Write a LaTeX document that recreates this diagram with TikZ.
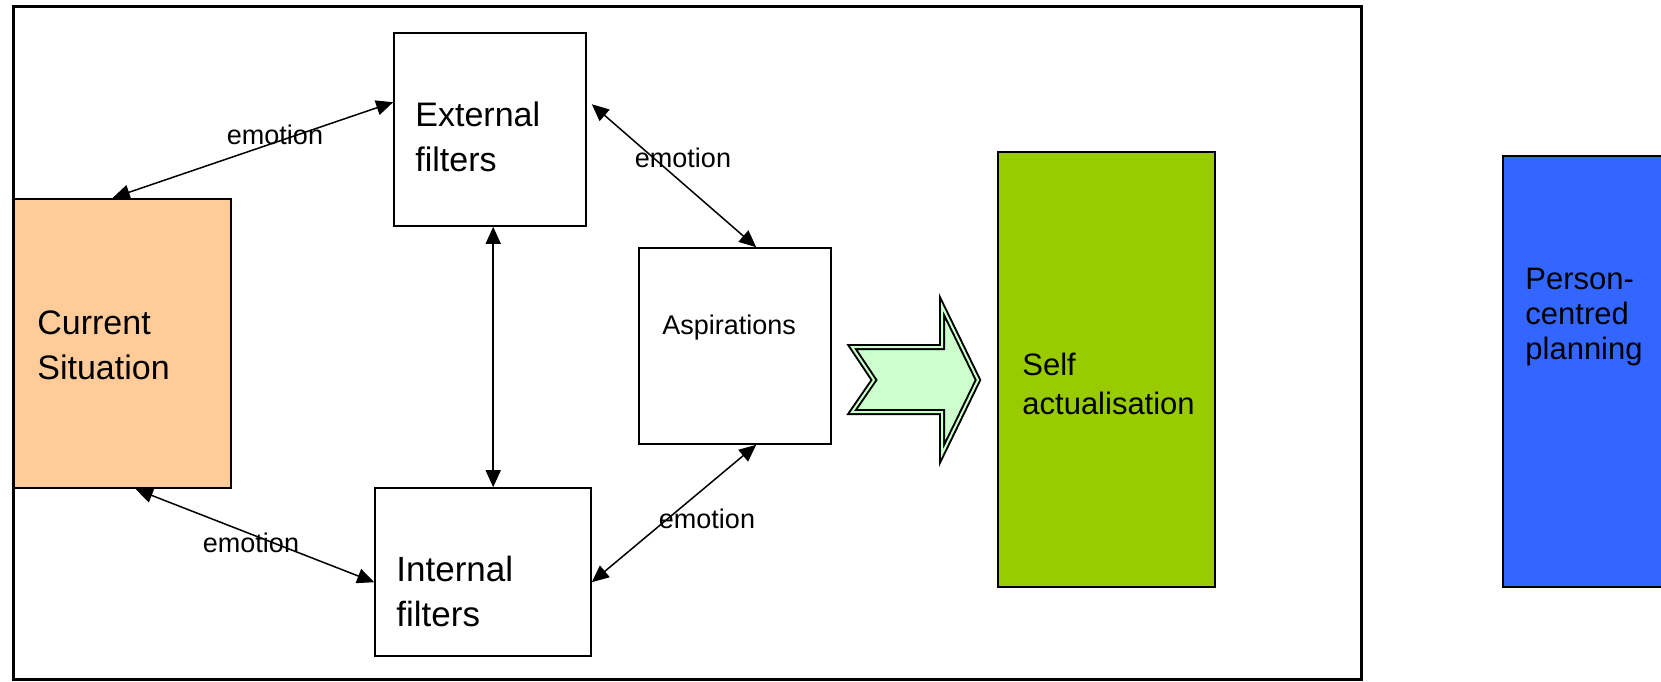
\documentclass[tikz,border=0pt]{standalone}
\usepackage{fontspec}
\setmainfont{Liberation Sans}
\usetikzlibrary{arrows.meta,calc}
\definecolor{peach}{HTML}{FFCC99}
\definecolor{leaf}{HTML}{99CC00}
\definecolor{royal}{HTML}{3366FF}
\definecolor{mint}{HTML}{CCFFCC}
\begin{document}
\begin{tikzpicture}[x=0.5pt,y=-0.5pt,
  wbox/.style={draw,fill=white,line width=0.8pt,inner sep=0pt},
  cbox/.style={draw,line width=1.2pt,inner sep=0pt},
  boxtext/.style={anchor=north west,inner sep=0pt,align=left,font={\fontsize{17pt}{22.5pt}\selectfont}},
  emo/.style={inner sep=0pt,font={\fontsize{13.5pt}{16pt}\selectfont}},
  biarrow/.style={line width=0.75pt,{Triangle[length=8.5pt,width=7.5pt]}-{Triangle[length=8.5pt,width=7.5pt]}},
  blockarrow/.style={draw=black,fill=mint,line width=1pt,double=mint,double distance=1pt,line join=miter}
]
\clip (0,0) rectangle (1661,681);
\fill[white] (0,0) rectangle (1661,681);
\draw[line width=1.5pt] (13,6) rectangle (1361,679);

% boxes
\node[wbox,minimum width=96pt,minimum height=96.5pt] (ext) at (490,129.5) {};
\node[cbox,fill=peach,minimum width=108.5pt,minimum height=144.5pt] (cur) at (122.5,343.5) {};
\node[wbox,minimum width=96pt,minimum height=98pt] (asp) at (735,346) {};
\node[wbox,minimum width=108pt,minimum height=84pt] (int) at (483,572) {};
\node[cbox,fill=leaf,minimum width=108.5pt,minimum height=217.5pt] (self) at (1106.5,369.5) {};
\node[cbox,fill=royal,minimum width=108.5pt,minimum height=215.5pt] (pcp) at (1611.5,371.5) {};

% texts
\node[boxtext] (extT) at (415,101) {External\\filters};
\node[boxtext] (curT) at (37,310) {Current\\Situation};
\node[boxtext,font={\fontsize{13.5pt}{16pt}\selectfont}] (aspT) at (662,315) {Aspirations};
\node[boxtext,font={\fontsize{17.5pt}{22.5pt}\selectfont}] (intT) at (396,556) {Internal\\filters};
\node[boxtext,font={\fontsize{15.5pt}{19.5pt}\selectfont}] (selfT) at (1022,353) {Self\\actualisation};
\node[boxtext,font={\fontsize{15.5pt}{17.5pt}\selectfont}] (pcpT) at (1525,268) {Person-\\centred\\planning};

% connectors
\draw[biarrow] ($(cur.north west)+(100,0)$) -- ($(ext.north west)+(0,70)$);
\draw[biarrow] ($(ext.north east)+(5,72)$) -- ($(asp.north west)+(118,0)$);
\draw[biarrow] ($(ext.south west)+(100,0)$) -- ($(int.north west)+(119,0)$);
\draw[biarrow] ($(cur.south west)+(123,0)$) -- ($(int.north west)+(0,95)$);
\draw[biarrow] ($(asp.south west)+(118,0)$) -- ($(int.north east)+(0,95)$);

% labels
\node[emo] (e1) at (275,135) {emotion};
\node[emo] (e2) at (683,158) {emotion};
\node[emo] (e3) at (251,543) {emotion};
\node[emo] (e4) at (707,519) {emotion};

% block arrow
\draw[blockarrow] (852,347) -- (942,347) -- (942,306) -- (978,380) -- (942,454) -- (942,412) -- (852,412) -- (874,380) -- cycle;
\end{tikzpicture}
\end{document}
